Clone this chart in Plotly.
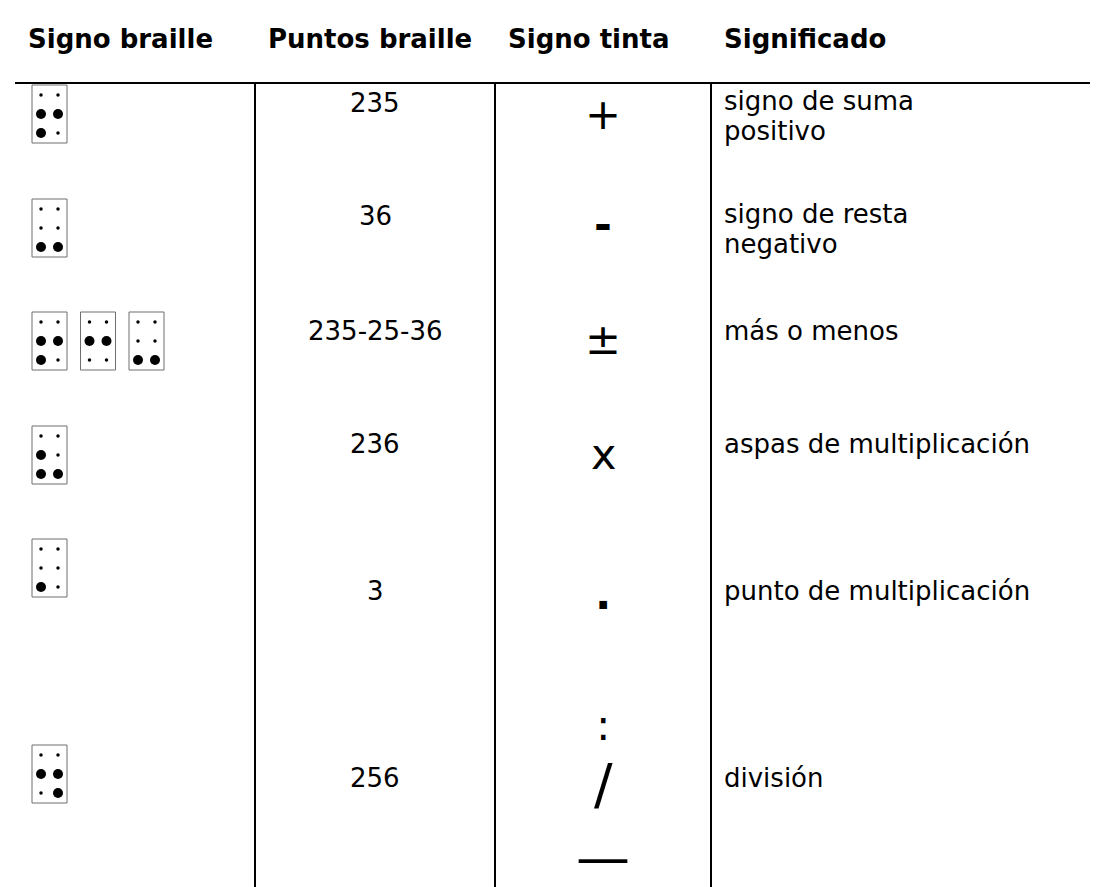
import plotly.graph_objects as go

# ---------------- data ----------------
headers = ["Signo braille", "Puntos braille", "Signo tinta", "Significado"]
braille_points = ["235", "36", "235-25-36", "236", "3", "256"]
ink_signs = [["+"], ["-"], ["±"], ["x"], ["."], [":", "/", "—"]]
meanings = [
    ["signo de suma", "positivo"],
    ["signo de resta", "negativo"],
    ["más o menos"],
    ["aspas de multiplicación"],
    ["punto de multiplicación"],
    ["división"],
]

# ---------------- layout / style ----------------
W, H = 1098, 887
FONT = "DejaVu Sans"
BODY = 26
col_lines = [247, 487, 703]
rule_y = 75
rule_x = [7, 1096]
header_x = [19.5, 260, 500, 716]
header_base = 40
cell_tops = [77, 191, 304, 418, 531, 737]
cell_x0, cell_step, cell_w, cell_h = 24, 48.5, 35, 58
dot_dx = [9, 26]
dot_dy = [10, 29, 48]
big_dot, small_dot = 10, 3.5
pts_x = 367
pts_base = [104, 217, 331.5, 444.5, 592, 779]
ink_x = 595
ink_y = [[105.5], [216.4], [330.6], [446.3], [586], [717.4, 776, 849]]
ink_size = [[43], [43], [43], [43], [43], [43, 55, 54]]
ink_bold = [[False], [True], [False], [False], [True], [False, False, False]]
mean_x = 716
mean_base = [102, 215, 331.5, 444.5, 592, 779]
line_gap = 30


def mid_from_base(b, size):
    return b - 0.346 * size


fig = go.Figure()
shapes = []
annotations = []

# rules
shapes.append(dict(type="line", x0=rule_x[0], x1=rule_x[1], y0=rule_y, y1=rule_y,
                   line=dict(color="black", width=2), layer="above"))
for cx in col_lines:
    shapes.append(dict(type="line", x0=cx, x1=cx, y0=rule_y, y1=H + 2,
                       line=dict(color="black", width=2), layer="above"))

# headers
for hx, txt in zip(header_x, headers):
    annotations.append(dict(x=hx, y=mid_from_base(header_base, BODY), text="<b>" + txt + "</b>",
                            xanchor="left", yanchor="middle", showarrow=False,
                            font=dict(family=FONT, size=BODY, color="black"),
                            borderpad=0, borderwidth=0))

# braille cells from the dot numbers
bx, by, bs = [], [], []
for r, spec in enumerate(braille_points):
    for k, cell in enumerate(spec.split("-")):
        left = cell_x0 + k * cell_step
        top = cell_tops[r]
        shapes.append(dict(type="rect", x0=left, x1=left + cell_w, y0=top, y1=top + cell_h,
                           line=dict(color="#6e6e6e", width=1), fillcolor="rgba(0,0,0,0)"))
        raised = {int(d) for d in cell}
        for d in range(1, 7):
            c = 0 if d <= 3 else 1
            rr = (d - 1) % 3
            bx.append(left + dot_dx[c])
            by.append(top + dot_dy[rr])
            bs.append(big_dot if d in raised else small_dot)

fig.add_trace(go.Scatter(x=bx, y=by, mode="markers",
                         marker=dict(size=bs, color="black", opacity=1, line=dict(width=0)),
                         hoverinfo="skip", showlegend=False))

# braille points column
for r, txt in enumerate(braille_points):
    annotations.append(dict(x=pts_x, y=mid_from_base(pts_base[r], BODY), text=txt,
                            xanchor="center", yanchor="middle", showarrow=False,
                            font=dict(family=FONT, size=BODY, color="black"),
                            borderpad=0, borderwidth=0))

# ink signs
for r, signs in enumerate(ink_signs):
    for j, s in enumerate(signs):
        t = "<b>" + s + "</b>" if ink_bold[r][j] else s
        annotations.append(dict(x=ink_x, y=ink_y[r][j], text=t,
                                xanchor="center", yanchor="middle", showarrow=False,
                                font=dict(family=FONT, size=ink_size[r][j], color="black"),
                                borderpad=0, borderwidth=0))

# meanings
for r, lines in enumerate(meanings):
    for j, txt in enumerate(lines):
        annotations.append(dict(x=mean_x, y=mid_from_base(mean_base[r] + j * line_gap, BODY), text=txt,
                                xanchor="left", yanchor="middle", showarrow=False,
                                font=dict(family=FONT, size=BODY, color="black"),
                                borderpad=0, borderwidth=0))

fig.update_layout(
    width=W, height=H,
    margin=dict(l=0, r=0, t=0, b=0),
    paper_bgcolor="white", plot_bgcolor="white",
    xaxis=dict(range=[0, W], visible=False, fixedrange=True),
    yaxis=dict(range=[H, 0], visible=False, fixedrange=True),
    shapes=shapes, annotations=annotations,
    hovermode=False, showlegend=False,
)

fig.write_html("out.html", config={"displayModeBar": False})
